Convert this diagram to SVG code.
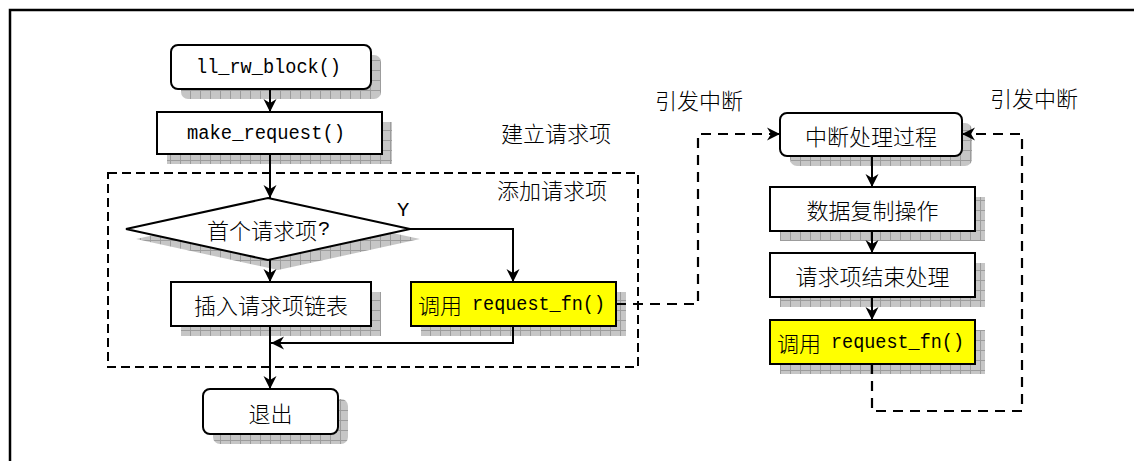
<svg xmlns="http://www.w3.org/2000/svg" width="1134" height="461" viewBox="0 0 1134 461">
<style>
.box{fill:#fff;stroke:#000;stroke-width:2}
.yel{fill:#ffff00;stroke:#000;stroke-width:2}
.sh{fill:url(#grid);stroke:none}
.cn{fill:none;stroke:#000;stroke-width:2}
.dash{fill:none;stroke:#000;stroke-width:2.2;stroke-dasharray:10 7}
.grp{fill:none;stroke:#000;stroke-width:2;stroke-dasharray:9 5}
text{dominant-baseline:central;fill:#000}
.zh{font-family:"Noto Sans CJK SC",sans-serif;font-size:22px;font-weight:300;text-anchor:middle}
.zs{font-family:"Noto Sans CJK SC",sans-serif;font-size:22px;font-weight:300;text-anchor:start}
.mono{font-family:"Liberation Mono",monospace;font-size:20.5px;text-anchor:start}
</style>
<defs>
<pattern id="grid" width="10" height="10" patternUnits="userSpaceOnUse">
<rect width="10" height="10" fill="#c6c6c6"/>
<path d="M0,0.5H10M0.5,0V10" stroke="#9c9c9c" stroke-width="1"/>
</pattern>
<marker id="arr" markerUnits="userSpaceOnUse" markerWidth="16" markerHeight="16" viewBox="0 -8 14 16" refX="13" refY="0" orient="auto">
<path d="M0,-6.5L13,0L0,6.5L4,0Z" fill="#000" stroke="none"/>
</marker>
</defs>
<rect width="1134" height="461" fill="#fff"/>
<g id="frame">
<path d="M10,461V10H1134" fill="none" stroke="#000" stroke-width="2.5"/>
</g>
<g id="group-add">
<rect class="grp" x="108" y="173" width="530" height="194"/>
</g>
<g id="label-build"><text class="zh" x="556" y="132">建立请求项</text></g>
<g id="label-add"><text class="zh" x="552" y="189">添加请求项</text></g>
<g id="label-y"><text class="mono" x="397" y="210">Y</text></g>
<g id="label-irq1"><text class="zh" x="699" y="99">引发中断</text></g>
<g id="label-irq2"><text class="zh" x="1034" y="97">引发中断</text></g>

<g id="n-llrw">
<rect class="sh" x="181" y="55" width="200" height="44" rx="7"/>
<rect class="box" x="171" y="45" width="200" height="44" rx="7"/>
<text class="mono" x="196" y="67" textLength="145" lengthAdjust="spacingAndGlyphs">ll_rw_block()</text>
</g>
<g id="n-make">
<rect class="sh" x="167" y="122" width="225" height="42"/>
<rect class="box" x="157" y="112" width="225" height="42"/>
<text class="mono" x="187" y="133" textLength="158" lengthAdjust="spacingAndGlyphs">make_request()</text>
</g>
<g id="n-first">
<polygon class="sh" points="278,208 420,239 278,270 136,239"/>
<polygon class="box" points="268,198 410,229 268,260 126,229"/>
<text class="zs" x="207" y="229">首个请求项</text>
<text class="mono" x="318" y="229">?</text>
</g>
<g id="n-insert">
<rect class="sh" x="181" y="292" width="200" height="44"/>
<rect class="box" x="171" y="282" width="200" height="44"/>
<text class="zh" x="271" y="304">插入请求项链表</text>
</g>
<g id="n-call1">
<rect class="sh" x="421" y="292" width="205" height="44"/>
<rect class="yel" x="411" y="282" width="205" height="44"/>
<text class="zs" x="418" y="304">调用</text>
<text class="mono" x="472" y="304" textLength="133" lengthAdjust="spacingAndGlyphs">request_fn()</text>
</g>
<g id="n-exit">
<rect class="sh" x="213" y="399" width="135" height="45" rx="7"/>
<rect class="box" x="203" y="389" width="135" height="45" rx="7"/>
<text class="zh" x="270.5" y="411.5">退出</text>
</g>
<g id="n-irq">
<rect class="sh" x="790" y="123" width="182" height="43" rx="7"/>
<rect class="box" x="780" y="113" width="182" height="43" rx="7"/>
<text class="zh" x="871" y="134.5">中断处理过程</text>
</g>
<g id="n-copy">
<rect class="sh" x="780" y="197" width="205" height="44"/>
<rect class="box" x="770" y="187" width="205" height="44"/>
<text class="zh" x="872.5" y="209">数据复制操作</text>
</g>
<g id="n-end">
<rect class="sh" x="780" y="263" width="205" height="44"/>
<rect class="box" x="770" y="253" width="205" height="44"/>
<text class="zh" x="872.5" y="275">请求项结束处理</text>
</g>
<g id="n-call2">
<rect class="sh" x="780" y="330" width="205" height="44"/>
<rect class="yel" x="770" y="320" width="205" height="44"/>
<text class="zs" x="777" y="342">调用</text>
<text class="mono" x="831" y="342" textLength="133" lengthAdjust="spacingAndGlyphs">request_fn()</text>
</g>

<g id="connectors">
<path class="cn" d="M270,89V112" marker-end="url(#arr)"/>
<path class="cn" d="M270,154V198" marker-end="url(#arr)"/>
<path class="cn" d="M410,229H513V282" marker-end="url(#arr)"/>
<path class="cn" d="M270,260V282" marker-end="url(#arr)"/>
<path class="cn" d="M513,326V343H271" marker-end="url(#arr)"/>
<path class="cn" d="M270,326V389" marker-end="url(#arr)"/>
<path class="dash" d="M616,304H698V134H780" marker-end="url(#arr)"/>
<path class="dash" d="M872,364V411H1022V134H962" marker-end="url(#arr)"/>
<path class="cn" d="M872,156V187" marker-end="url(#arr)"/>
<path class="cn" d="M872,231V253" marker-end="url(#arr)"/>
<path class="cn" d="M872,297V320" marker-end="url(#arr)"/>
</g>
</svg>
